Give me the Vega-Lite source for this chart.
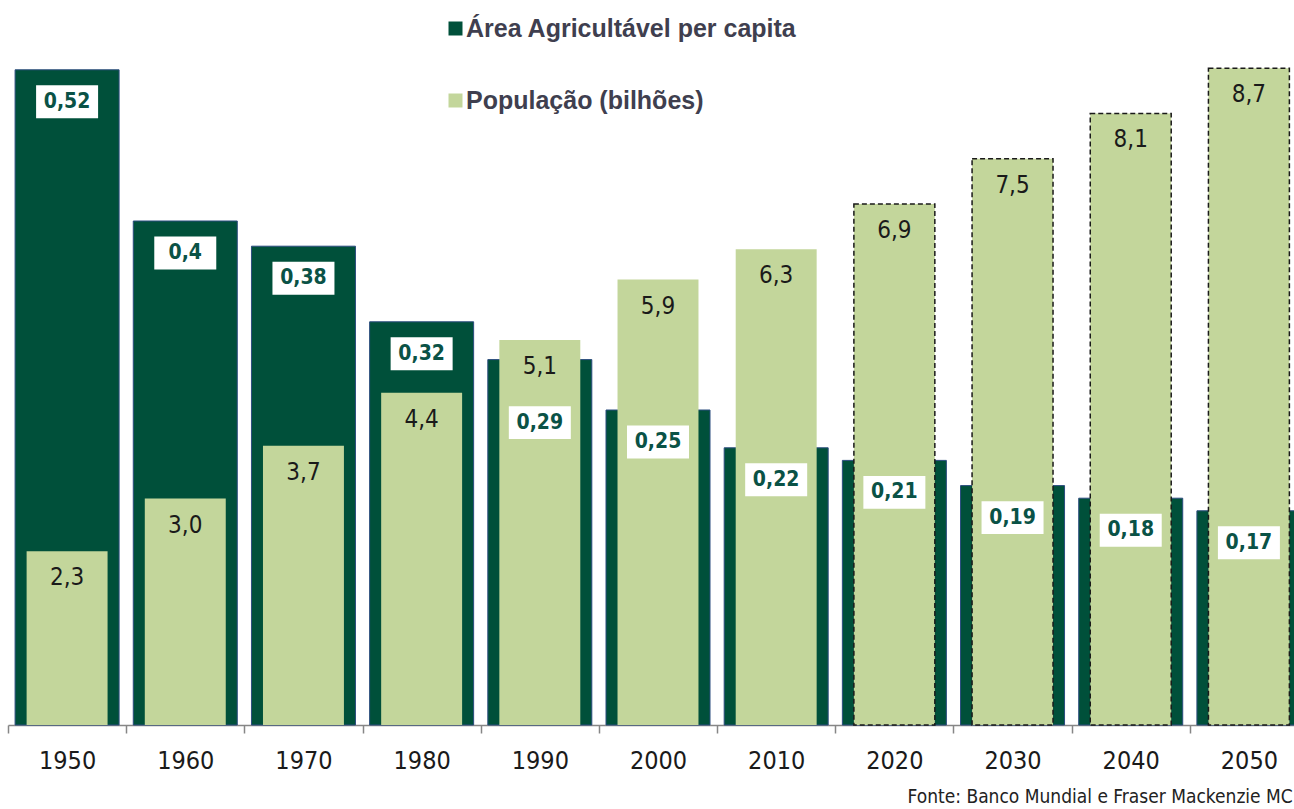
{
  "$schema": "https://vega.github.io/schema/vega-lite/v6.json",
  "width": 1286,
  "height": 725,
  "autosize": {"type": "none"},
  "padding": {"left": 8, "top": 0, "right": 0, "bottom": 84},
  "background": "white",
  "config": {
    "view": {"stroke": null},
    "locale": {"number": {"decimal": ",", "thousands": ".", "grouping": [3], "currency": ["R$", ""]}}
  },
  "title": {
    "text": "Fonte: Banco Mundial e Fraser Mackenzie MC",
    "orient": "bottom",
    "anchor": "end",
    "font": "DejaVu Sans Condensed, Liberation Sans",
    "fontSize": 19,
    "fontWeight": "normal",
    "color": "#222222",
    "dx": -16,
    "offset": 15
  },
  "data": {
    "values": [
      {"ano": 1950, "area": 0.52, "pop": 2.3},
      {"ano": 1960, "area": 0.40, "pop": 3.0},
      {"ano": 1970, "area": 0.38, "pop": 3.7},
      {"ano": 1980, "area": 0.32, "pop": 4.4},
      {"ano": 1990, "area": 0.29, "pop": 5.1},
      {"ano": 2000, "area": 0.25, "pop": 5.9},
      {"ano": 2010, "area": 0.22, "pop": 6.3},
      {"ano": 2020, "area": 0.21, "pop": 6.9},
      {"ano": 2030, "area": 0.19, "pop": 7.5},
      {"ano": 2040, "area": 0.18, "pop": 8.1},
      {"ano": 2050, "area": 0.17, "pop": 8.7}
    ]
  },
  "encoding": {
    "x": {
      "field": "ano",
      "type": "ordinal",
      "scale": {"paddingInner": 0, "paddingOuter": 0, "range": [0, 1300]},
      "axis": {
        "title": null,
        "labelAngle": 0,
        "labelFont": "DejaVu Sans Condensed, Liberation Sans",
        "labelFontSize": 25,
        "labelColor": "#1a1a1a",
        "labelPadding": 15,
        "domainColor": "#868686",
        "domainWidth": 1.5,
        "tickColor": "#868686",
        "tickWidth": 1.5,
        "tickSize": 8,
        "tickBand": "extent",
        "grid": false
      }
    }
  },
  "layer": [
    {
      "mark": {"type": "bar", "width": {"band": 0.88}, "stroke": "#2B4C7E", "strokeWidth": 1},
      "encoding": {
        "y": {"field": "area", "type": "quantitative", "scale": {"domain": [0, 0.5754], "nice": false}, "axis": null},
        "fill": {
          "datum": "Área Agricultável per capita",
          "type": "nominal",
          "scale": {"domain": ["Área Agricultável per capita", "População (bilhões)"], "range": ["#00503A", "#C3D69B"]},
          "legend": {
            "orient": "none",
            "legendX": 435,
            "legendY": 16,
            "direction": "vertical",
            "title": null,
            "symbolType": "square",
            "symbolSize": 196,
            "symbolStrokeWidth": 0,
            "symbolOpacity": 1,
            "labelFont": "Liberation Sans",
            "labelFontSize": 25,
            "labelFontWeight": "bold",
            "labelColor": "#3f3f4f",
            "rowPadding": 46,
            "labelOffset": -2,
            "labelLimit": 600
          }
        }
      }
    },
    {
      "mark": {"type": "bar", "width": {"band": 0.685}, "strokeWidth": 1.5},
      "encoding": {
        "y": {"field": "pop", "type": "quantitative", "scale": {"domain": [0, 9.603], "nice": false}, "axis": null},
        "fill": {"datum": "População (bilhões)", "type": "nominal"},
        "stroke": {"condition": {"test": "datum.ano >= 2020", "value": "#1a1a1a"}, "value": null},
        "strokeDash": {"condition": {"test": "datum.ano >= 2020", "value": [5, 3]}, "value": [1, 0]}
      }
    },
    {
      "transform": [{"filter": "datum.ano != 1990"}],
      "mark": {"type": "point", "shape": "M-1,-0.53H1V0.53H-1Z", "size": 3844, "filled": true, "fill": "white", "opacity": 1, "strokeWidth": 0, "yOffset": 32},
      "encoding": {
        "y": {"field": "area", "type": "quantitative", "scale": {"domain": [0, 0.5754], "nice": false}, "axis": null}
      }
    },
    {
      "transform": [{"filter": "datum.ano == 1990"}],
      "mark": {"type": "point", "shape": "M-1,-0.53H1V0.53H-1Z", "size": 3844, "filled": true, "fill": "white", "opacity": 1, "strokeWidth": 0, "yOffset": 63},
      "encoding": {
        "y": {"field": "area", "type": "quantitative", "scale": {"domain": [0, 0.5754], "nice": false}, "axis": null}
      }
    },
    {
      "transform": [{"filter": "datum.ano != 1990"}],
      "mark": {"type": "text", "font": "DejaVu Sans Condensed, Liberation Sans", "fontSize": 21, "fontWeight": "bold", "fill": "#0a5246", "baseline": "middle", "align": "center", "yOffset": 32},
      "encoding": {
        "y": {"field": "area", "type": "quantitative", "scale": {"domain": [0, 0.5754], "nice": false}, "axis": null},
        "text": {"field": "area", "type": "quantitative", "format": ".2~f"}
      }
    },
    {
      "transform": [{"filter": "datum.ano == 1990"}],
      "mark": {"type": "text", "font": "DejaVu Sans Condensed, Liberation Sans", "fontSize": 21, "fontWeight": "bold", "fill": "#0a5246", "baseline": "middle", "align": "center", "yOffset": 63},
      "encoding": {
        "y": {"field": "area", "type": "quantitative", "scale": {"domain": [0, 0.5754], "nice": false}, "axis": null},
        "text": {"field": "area", "type": "quantitative", "format": ".2~f"}
      }
    },
    {
      "mark": {"type": "text", "font": "DejaVu Sans Condensed, Liberation Sans", "fontSize": 24, "fontWeight": "normal", "fill": "#1a1a1a", "baseline": "middle", "align": "center", "yOffset": 27},
      "encoding": {
        "y": {"field": "pop", "type": "quantitative", "scale": {"domain": [0, 9.603], "nice": false}, "axis": null},
        "text": {"field": "pop", "type": "quantitative", "format": ".1f"}
      }
    }
  ],
  "resolve": {"scale": {"y": "independent"}}
}
